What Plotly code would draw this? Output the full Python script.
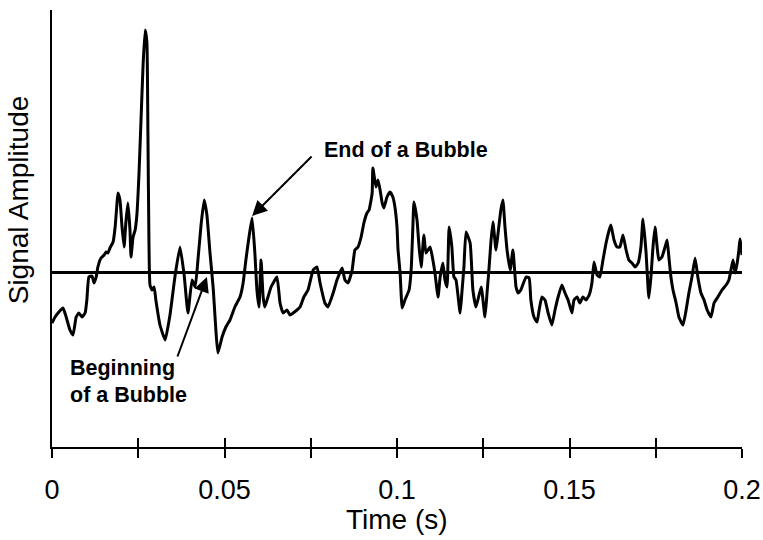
import plotly.graph_objects as go

# Sampled bubble-probe signal: time (s) and relative amplitude
time_s = [
    0.0000, 0.0009, 0.0020, 0.0032, 0.0041, 0.0052, 0.0061, 0.0070, 0.0078, 0.0087,
    0.0096, 0.0101, 0.0107, 0.0116, 0.0122, 0.0128, 0.0133, 0.0142, 0.0151, 0.0157,
    0.0162, 0.0168, 0.0177, 0.0183, 0.0188, 0.0191, 0.0197, 0.0203, 0.0209, 0.0214,
    0.0220, 0.0226, 0.0229, 0.0235, 0.0241, 0.0246, 0.0252, 0.0258, 0.0264, 0.0270,
    0.0275, 0.0278, 0.0281, 0.0284, 0.0290, 0.0296, 0.0301, 0.0313, 0.0328, 0.0342,
    0.0357, 0.0371, 0.0383, 0.0394, 0.0406, 0.0415, 0.0423, 0.0432, 0.0441, 0.0449,
    0.0458, 0.0467, 0.0481, 0.0493, 0.0504, 0.0516, 0.0530, 0.0545, 0.0554, 0.0562,
    0.0571, 0.0580, 0.0588, 0.0594, 0.0600, 0.0606, 0.0612, 0.0617, 0.0626, 0.0635,
    0.0652, 0.0661, 0.0670, 0.0681, 0.0690, 0.0699, 0.0710, 0.0719, 0.0730, 0.0742,
    0.0757, 0.0768, 0.0777, 0.0791, 0.0800, 0.0815, 0.0826, 0.0841, 0.0849, 0.0858,
    0.0870, 0.0878, 0.0887, 0.0896, 0.0904, 0.0913, 0.0919, 0.0928, 0.0930, 0.0939,
    0.0945, 0.0951, 0.0957, 0.0962, 0.0971, 0.0980, 0.0988, 0.0994, 0.1000, 0.1003,
    0.1009, 0.1015, 0.1023, 0.1035, 0.1041, 0.1046, 0.1049, 0.1058, 0.1064, 0.1070,
    0.1078, 0.1084, 0.1096, 0.1104, 0.1110, 0.1119, 0.1125, 0.1133, 0.1139, 0.1145,
    0.1151, 0.1159, 0.1165, 0.1171, 0.1183, 0.1188, 0.1194, 0.1200, 0.1212, 0.1220,
    0.1229, 0.1244, 0.1255, 0.1261, 0.1267, 0.1272, 0.1278, 0.1287, 0.1293, 0.1301,
    0.1307, 0.1313, 0.1319, 0.1328, 0.1336, 0.1345, 0.1351, 0.1359, 0.1374, 0.1383,
    0.1388, 0.1397, 0.1406, 0.1412, 0.1420, 0.1429, 0.1438, 0.1449, 0.1458, 0.1467,
    0.1478, 0.1487, 0.1496, 0.1507, 0.1513, 0.1522, 0.1530, 0.1539, 0.1548, 0.1557,
    0.1565, 0.1571, 0.1580, 0.1588, 0.1597, 0.1606, 0.1615, 0.1620, 0.1629, 0.1638,
    0.1646, 0.1655, 0.1664, 0.1672, 0.1681, 0.1690, 0.1699, 0.1707, 0.1713, 0.1722,
    0.1728, 0.1730, 0.1736, 0.1742, 0.1748, 0.1754, 0.1759, 0.1768, 0.1777, 0.1783,
    0.1788, 0.1794, 0.1800, 0.1809, 0.1817, 0.1829, 0.1838, 0.1846, 0.1855, 0.1864,
    0.1872, 0.1881, 0.1890, 0.1899, 0.1910, 0.1919, 0.1930, 0.1942, 0.1954, 0.1962,
    0.1968, 0.1974, 0.1980, 0.1986, 0.1991, 0.1994, 0.2000,
]

amplitude = [
    -0.51, -0.45, -0.40, -0.36, -0.45, -0.58, -0.63, -0.45, -0.41, -0.45,
    -0.41, -0.28, -0.05, -0.04, -0.11, -0.05, 0.05, 0.14, 0.17, 0.20,
    0.19, 0.24, 0.30, 0.45, 0.67, 0.79, 0.72, 0.45, 0.25, 0.49,
    0.69, 0.42, 0.15, 0.35, 0.42, 0.57, 0.97, 1.52, 2.07, 2.42,
    2.30, 1.40, 0.30, -0.13, -0.18, -0.15, -0.28, -0.53, -0.68, -0.43,
    -0.03, 0.25, -0.03, -0.41, -0.08, -0.15, 0.12, 0.47, 0.72, 0.57,
    0.19, -0.15, -0.81, -0.65, -0.55, -0.48, -0.35, -0.25, -0.11, 0.12,
    0.35, 0.54, 0.19, -0.18, -0.35, 0.12, -0.25, -0.35, -0.25, -0.15,
    -0.05, -0.31, -0.41, -0.38, -0.43, -0.41, -0.38, -0.35, -0.25, -0.18,
    0.02, 0.05, -0.11, -0.31, -0.35, -0.21, -0.08, 0.04, -0.08, -0.11,
    0.02, 0.22, 0.25, 0.35, 0.49, 0.59, 0.62, 0.79, 1.04, 0.85,
    0.92, 0.82, 0.69, 0.64, 0.75, 0.80, 0.75, 0.65, 0.45, 0.22,
    -0.01, -0.36, -0.28, -0.18, 0.02, 0.45, 0.70, 0.52, 0.25, 0.05,
    0.37, 0.19, 0.25, 0.12, -0.01, -0.25, -0.05, 0.09, -0.08, -0.15,
    0.45, 0.25, -0.05, -0.08, -0.41, -0.21, 0.05, 0.40, 0.29, -0.18,
    -0.35, -0.15, -0.45, -0.21, 0.05, 0.29, 0.50, 0.22, 0.39, 0.62,
    0.72, 0.45, 0.22, 0.02, 0.22, -0.15, -0.21, -0.18, -0.05, -0.06,
    -0.28, -0.45, -0.50, -0.38, -0.25, -0.28, -0.41, -0.53, -0.38, -0.25,
    -0.13, -0.21, -0.28, -0.41, -0.28, -0.25, -0.31, -0.25, -0.28, -0.23,
    -0.11, 0.10, -0.03, -0.05, 0.12, 0.29, 0.42, 0.47, 0.32, 0.25,
    0.25, 0.37, 0.22, 0.12, 0.09, 0.05, 0.09, 0.25, 0.53, 0.19,
    -0.18, -0.26, -0.05, 0.25, 0.45, 0.25, 0.12, 0.15, 0.25, 0.32,
    0.15, -0.05, -0.18, -0.31, -0.45, -0.53, -0.38, -0.21, -0.05, 0.14,
    -0.05, -0.21, -0.28, -0.38, -0.45, -0.31, -0.25, -0.18, -0.13, -0.08,
    0.02, 0.12, -0.01, 0.09, 0.22, 0.33, 0.17,
]

tick_vals = [0, 0.025, 0.05, 0.075, 0.1, 0.125, 0.15, 0.175, 0.2]
tick_text = ["0", "", "0.05", "", "0.1", "", "0.15", "", "0.2"]

# Annotated events: (time, amplitude) of the arrow tips
bubble_end = (0.0580, 0.56)
bubble_start = (0.0449, -0.05)

FONT = "Liberation Sans, Arial, sans-serif"
x_range = [0, 0.2]
y_range = [-1.75, 2.62]

fig = go.Figure()
fig.add_trace(go.Scatter(
    x=time_s, y=amplitude, mode="lines",
    line=dict(color="black", width=3, shape="spline", smoothing=0.4),
    hoverinfo="skip", showlegend=False,
))

# invisible trace on the overlay axis so its inward ticks are rendered
fig.add_trace(go.Scatter(
    x=x_range, y=[0, 0], xaxis="x2", mode="lines",
    line=dict(width=0), hoverinfo="skip", showlegend=False,
))

fig.update_layout(
    width=763, height=540,
    margin=dict(l=52, r=21, t=10, b=93, autoexpand=False),
    paper_bgcolor="white", plot_bgcolor="white",
    font=dict(family=FONT, color="black"),
    xaxis=dict(
        range=x_range, tickvals=tick_vals, ticktext=tick_text,
        ticks="outside", ticklen=9, tickwidth=1.5, tickcolor="black",
        showline=True, linecolor="black", linewidth=2,
        showgrid=False, zeroline=False, automargin=False,
        tickfont=dict(family=FONT, size=27, color="black"),
        ticklabelstandoff=9,
    ),
    xaxis2=dict(
        overlaying="x", side="bottom", range=x_range, matches="x",
        tickvals=tick_vals, showticklabels=False,
        ticks="inside", ticklen=9, tickwidth=1.5, tickcolor="black",
        showline=False, showgrid=False, zeroline=False, automargin=False,
    ),
    yaxis=dict(
        range=y_range, showticklabels=False, ticks="",
        showline=True, linecolor="black", linewidth=2,
        showgrid=False, automargin=False,
        zeroline=True, zerolinecolor="black", zerolinewidth=2.6,
    ),
)

annotations = [
    # axis titles
    dict(text="Time (s)", xref="paper", yref="paper", x=0.5, y=-0.167,
         xanchor="center", yanchor="middle", showarrow=False,
         font=dict(family=FONT, size=28, color="black")),
    dict(text="Signal Amplitude", xref="paper", yref="paper", x=-0.049, y=0.565,
         xanchor="center", yanchor="middle", textangle=-90, showarrow=False,
         font=dict(family=FONT, size=28, color="black")),
    # event labels
    dict(text="<b>End of a Bubble</b>", xref="x", yref="y", x=0.0783, y=1.22,
         xanchor="left", yanchor="middle", showarrow=False,
         font=dict(family=FONT, size=21.5, color="black")),
    dict(text="<b>Beginning</b>", xref="x", yref="y", x=0.0046, y=-0.96,
         xanchor="left", yanchor="middle", showarrow=False,
         font=dict(family=FONT, size=21.5, color="black")),
    dict(text="<b>of a Bubble</b>", xref="x", yref="y", x=0.0046, y=-1.23,
         xanchor="left", yanchor="middle", showarrow=False,
         font=dict(family=FONT, size=21.5, color="black")),
    # arrows pointing at the events
    dict(text="", xref="x", yref="y", x=bubble_end[0], y=bubble_end[1],
         ax=61, ay=-61, showarrow=True, arrowhead=2, arrowsize=1.5,
         arrowwidth=2, arrowcolor="black"),
    dict(text="", xref="x", yref="y", x=bubble_start[0], y=bubble_start[1],
         ax=-30, ay=81, showarrow=True, arrowhead=2, arrowsize=1.5,
         arrowwidth=2, arrowcolor="black"),
]
fig.update_layout(annotations=annotations)

fig.write_html("out.html")
